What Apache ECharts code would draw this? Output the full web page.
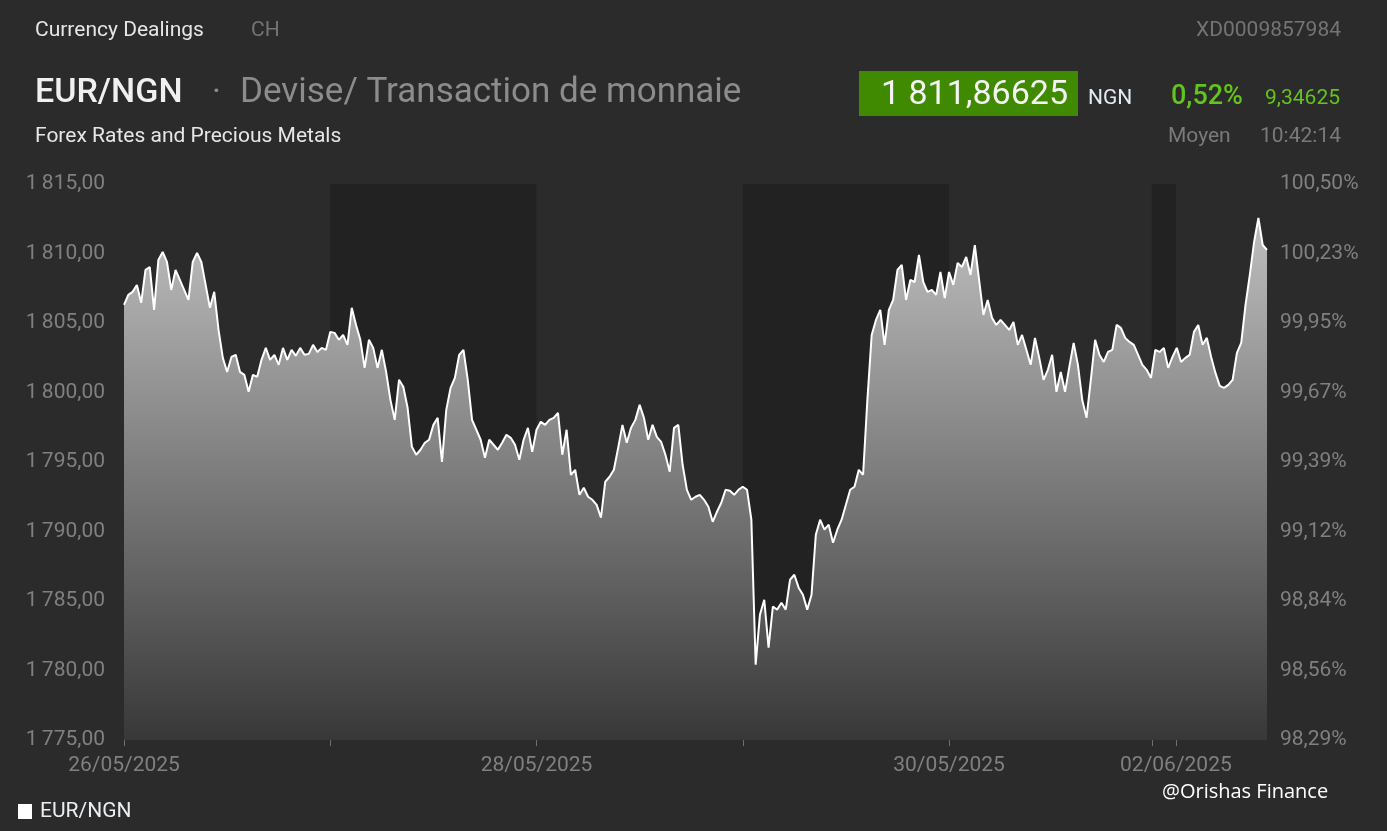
<!DOCTYPE html>
<html>
<head>
<meta charset="utf-8">
<script src="https://cdn.jsdelivr.net/npm/echarts@6/dist/echarts.min.js"></script>
<style>
html,body{margin:0;padding:0;background:#2b2b2b;}
#chart{width:1387px;height:831px;}
</style>
</head>
<body>
<div id="chart"></div>
<script>
// EUR/NGN mid rate, one reading every half trading hour from 26/05/2025 00:00
const rates = [
1806.30,1807.02,1807.24,1807.74,1806.45,1808.82,1809.03,1805.94,1809.54,1810.11,
1809.39,1807.38,1808.82,1808.10,1807.38,1806.66,1809.39,1810.04,1809.39,1807.74,
1806.09,1807.24,1804.50,1802.49,1801.48,1802.56,1802.71,1801.48,1801.27,1800.05,
1801.27,1801.13,1802.35,1803.21,1802.35,1802.71,1801.99,1803.21,1802.35,1803.07,
1802.64,1803.21,1802.71,1802.78,1803.43,1802.92,1803.21,1803.07,1804.36,1804.29,
1803.79,1804.14,1803.43,1806.09,1804.86,1803.79,1801.77,1803.79,1803.21,1801.77,
1803.07,1801.48,1799.47,1798.03,1800.91,1800.41,1798.90,1796.09,1795.52,1795.88,
1796.38,1796.60,1797.67,1798.18,1795.01,1798.75,1800.33,1801.05,1802.71,1803.07,
1800.91,1798.03,1797.32,1796.60,1795.30,1796.60,1796.24,1795.88,1796.38,1796.96,
1796.74,1796.24,1795.16,1796.60,1797.46,1795.73,1797.32,1797.89,1797.67,1798.03,
1798.18,1798.54,1795.52,1797.32,1794.08,1794.44,1792.64,1793.15,1792.50,1792.28,
1791.92,1790.99,1793.58,1793.94,1794.44,1796.02,1797.67,1796.38,1797.46,1798.03,
1799.11,1798.18,1796.60,1797.67,1796.81,1796.45,1795.52,1794.30,1797.46,1797.67,
1794.80,1793.00,1792.28,1792.50,1792.64,1792.28,1791.78,1790.70,1791.42,1792.07,
1793.00,1792.93,1792.64,1793.00,1793.22,1793.00,1790.85,1780.42,1784.02,1785.09,
1781.64,1784.59,1784.38,1784.88,1784.38,1786.53,1786.89,1785.96,1785.45,1784.38,
1785.45,1789.77,1790.85,1790.13,1790.49,1789.19,1790.13,1790.85,1791.92,1793.00,
1793.22,1794.44,1794.08,1799.47,1804.14,1805.22,1805.94,1803.43,1805.94,1806.66,
1808.82,1809.18,1806.66,1808.10,1807.95,1809.90,1807.95,1807.24,1807.38,1807.02,
1808.67,1806.80,1808.67,1807.74,1809.32,1809.03,1809.75,1808.46,1810.61,1808.10,
1805.58,1806.66,1805.37,1804.86,1805.22,1804.86,1804.50,1805.08,1803.43,1804.14,
1803.07,1801.99,1803.93,1802.49,1800.91,1801.63,1802.71,1800.05,1801.48,1800.05,
1801.84,1803.57,1801.99,1799.47,1798.18,1800.91,1803.79,1802.71,1802.20,1802.92,
1803.07,1804.86,1804.65,1803.93,1803.64,1803.43,1802.71,1801.99,1801.63,1801.05,
1803.07,1802.92,1803.21,1801.77,1802.56,1803.21,1802.20,1802.49,1802.71,1804.36,
1804.86,1803.43,1803.93,1802.56,1801.41,1800.48,1800.33,1800.55,1800.91,1802.85,
1803.57,1806.30,1808.46,1810.83,1812.56,1810.61,1810.26
];
const stepHours = 0.5;
const hours = rates.map((_, i) => i * stepHours);

// x axis (trading hours since 26/05/2025 00:00)
const xTickHours = [0, 24, 48, 72, 96, 119.6, 122.4];
const xLabelHours = [0, 48, 96, 122.4];
const xLabels = ['26/05/2025', '28/05/2025', '30/05/2025', '02/06/2025'];
const shadedBands = [[24, 48], [72, 96], [119.6, 122.4]];
const pctLabels = ['98,29%','98,56%','98,84%','99,12%','99,39%','99,67%','99,95%','100,23%','100,50%'];

const seriesData = hours.map((h, i) => [h, rates[i]]);

function frNum(v) {
  const s = v.toFixed(2).replace('.', ',');
  const [ip, dp] = s.split(',');
  return ip.replace(/\B(?=(\d{3})+(?!\d))/g, '\u2009') + ',' + dp;
}

function txt(x, y, text, fill, font, align) {
  return { type: 'text', x: x, y: y, style: { text: text, fill: fill, font: font, align: align || 'left', verticalAlign: 'middle' } };
}

const FONT = 'Roboto';
const chart = echarts.init(document.getElementById('chart'));
chart.setOption({
  backgroundColor: '#2b2b2b',
  animation: false,
  textStyle: { fontFamily: FONT },
  grid: { left: 124, right: 120, top: 184, bottom: 91 },
  legend: {
    data: ['EUR/NGN'], left: 18, top: 801, icon: 'rect', padding: 0,
    itemWidth: 14, itemHeight: 15, itemGap: 7,
    textStyle: { color: '#eaeef2', fontSize: 21, fontFamily: FONT, padding: [0, 0, 0, 3] }
  },
  xAxis: {
    type: 'value', min: 0, max: 133,
    axisLine: { show: false },
    splitLine: { show: false },
    axisTick: { show: true, customValues: xTickHours, length: 6, lineStyle: { color: '#6e6e6e' } },
    axisLabel: {
      customValues: xLabelHours, color: '#808080', fontSize: 21, margin: 15,
      formatter: v => { const k = xLabelHours.findIndex(h => Math.abs(h - v) < 0.01); return k >= 0 ? xLabels[k] : ''; }
    }
  },
  yAxis: [
    {
      type: 'value', min: 1775, max: 1815, interval: 5,
      splitLine: { show: false }, axisLine: { show: false }, axisTick: { show: false },
      axisLabel: { color: '#808080', fontSize: 21, margin: 19, formatter: v => frNum(v) }
    },
    {
      type: 'value', min: 1775, max: 1815, interval: 5, position: 'right',
      splitLine: { show: false }, axisLine: { show: false }, axisTick: { show: false },
      axisLabel: { color: '#808080', fontSize: 21, margin: 13, formatter: v => pctLabels[Math.round((v - 1775) / 5)] }
    }
  ],
  series: [
    {
      name: 'area', type: 'line', data: seriesData, showSymbol: false, z: 1, silent: true,
      lineStyle: { width: 0 },
      areaStyle: {
        origin: 'start', opacity: 1,
        color: new echarts.graphic.LinearGradient(0, 0, 0, 1, [
          { offset: 0, color: '#bfbfbf' },
          { offset: 1, color: '#383838' }
        ])
      }
    },
    {
      name: 'bands', type: 'line', data: [], z: 2, silent: true,
      markArea: {
        silent: true,
        itemStyle: { color: 'rgba(0,0,0,0.2)' },
        data: shadedBands.map(b => [{ xAxis: b[0] }, { xAxis: b[1] }])
      }
    },
    {
      name: 'EUR/NGN', type: 'line', data: seriesData, showSymbol: false, z: 3,
      lineStyle: { color: '#ffffff', width: 2 },
      itemStyle: { color: '#ffffff' }
    }
  ],
  graphic: [
    txt(35, 31, 'Currency Dealings', '#e6e6e6', '21px Roboto'),
    txt(251, 31, 'CH', '#747474', '21px Roboto'),
    txt(1341, 31, 'XD0009857984', '#747474', '21px Roboto', 'right'),
    txt(35, 93, 'EUR/NGN', '#f0f0f0', '500 34px Roboto'),
    txt(212, 93, '·', '#8c8c8c', '34px Roboto'),
    txt(240, 93, 'Devise/ Transaction de monnaie', '#8c8c8c', '35px Roboto'),
    txt(35, 137, 'Forex Rates and Precious Metals', '#e6e6e6', '21px Roboto'),
    { type: 'rect', shape: { x: 859, y: 71, width: 219, height: 45 }, style: { fill: '#3f8a00' } },
    txt(1068, 95, '1 811,86625', '#f4f4f4', '34px Roboto', 'right'),
    txt(1088, 99, 'NGN', '#e4ebf2', '21px Roboto'),
    txt(1171, 97, '0,52%', '#63c51b', '500 27px Roboto'),
    txt(1340, 99, '9,34625', '#63c51b', '21px Roboto', 'right'),
    txt(1168, 137, 'Moyen', '#7a7a7a', '21px Roboto'),
    txt(1341, 137, '10:42:14', '#7a7a7a', '21px Roboto', 'right'),
    txt(1162, 792, '@Orishas Finance', '#ffffff', '20px "Open Sans"')
  ]
});
</script>
</body>
</html>
